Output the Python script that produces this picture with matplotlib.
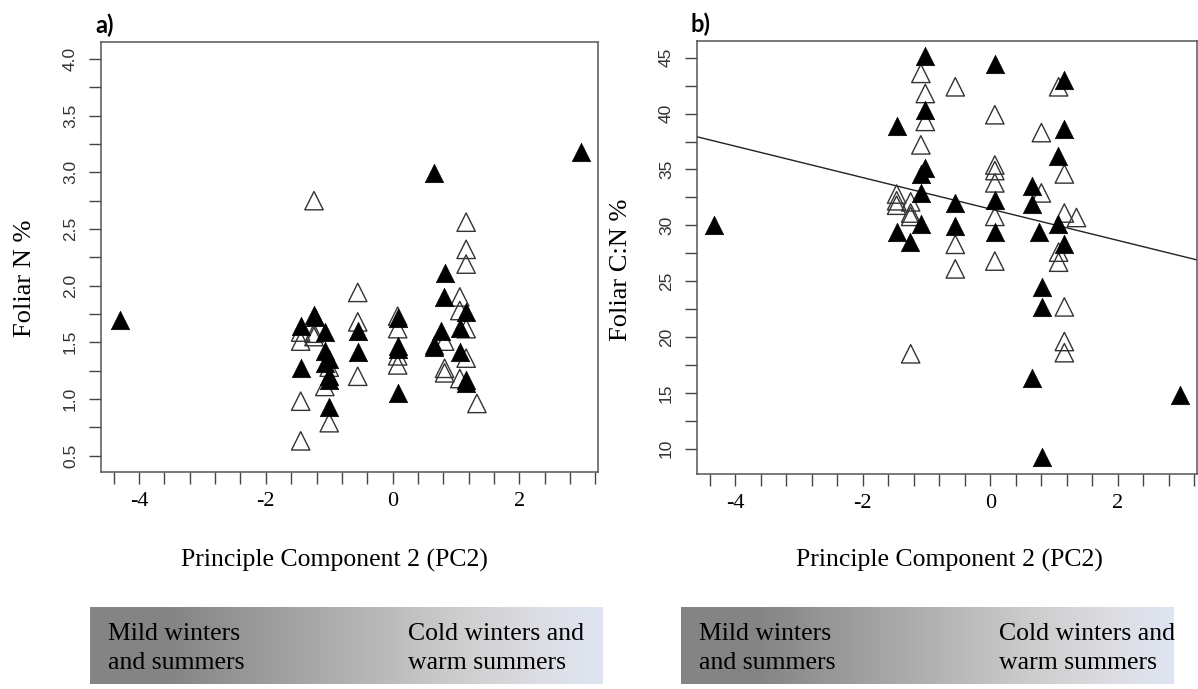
import numpy as np
import matplotlib
matplotlib.use("Agg")
import matplotlib.pyplot as plt
from matplotlib.colors import LinearSegmentedColormap

# panel a: foliar N % vs PC2
a_filled_x = [-4.30, -1.45, -1.45, -1.24, -1.22, -1.07, -1.07, -1.01, -1.07, -1.00, -1.00, -1.01,
              -0.55, -0.55, 0.08, 0.08, 0.08, 0.08, 0.65, 0.65, 0.76, 0.81, 1.06, 1.06,
              1.16, 1.16, 1.16, 0.65, 0.82, 2.97]
a_filled_y = [1.70, 1.64, 1.27, 1.74, 1.72, 1.59, 1.42, 1.35, 1.32, 1.20, 1.17, 0.93,
              1.60, 1.41, 1.71, 1.47, 1.44, 1.05, 1.48, 1.46, 1.60, 1.90, 1.63, 1.41,
              1.77, 1.17, 1.14, 2.99, 2.11, 3.18]
a_open_x = [-1.24, 1.16, 1.16, 1.16, -0.55, 1.06, 1.06, -1.45, -1.45, -1.24, -1.24, -1.00,
            -1.07, -1.45, -1.00, -1.45, -0.55, -0.55, 0.08, 0.08, 0.08, 0.08, 0.82, 0.82,
            0.82, 1.06, 1.16, 1.16, 1.33]
a_open_y = [2.75, 2.56, 2.32, 2.19, 1.94, 1.90, 1.78, 1.59, 1.51, 1.58, 1.55, 1.28,
            1.11, 0.98, 0.79, 0.63, 1.68, 1.20, 1.73, 1.62, 1.38, 1.30, 1.51, 1.27,
            1.23, 1.18, 1.62, 1.36, 0.96]

# panel b: foliar C:N % vs PC2
b_filled_x = [-1.02, 0.07, 1.16, -1.02, -1.46, 1.16, 1.06, -1.02, -1.09, 0.65, -1.09, -0.55,
              0.07, -4.33, 0.65, -1.47, -1.26, -1.09, -0.55, 0.07, 0.76, 1.06, 1.16, 0.81,
              0.81, 0.65, 2.98, 0.81]
b_filled_y = [45.2, 44.4, 43.0, 40.3, 38.9, 38.6, 36.2, 35.1, 34.6, 33.5, 32.9, 32.0,
              32.3, 30.0, 31.9, 29.4, 28.5, 30.1, 29.9, 29.4, 29.4, 30.1, 28.3, 24.5,
              22.7, 16.3, 14.8, 9.3]
b_open_x = [-1.09, -0.55, 1.07, -1.02, 0.07, -1.02, 0.80, -1.09, 0.07, 0.07, 1.16, 0.07,
            0.80, -1.47, -1.47, -1.47, -1.25, -1.25, -1.25, 0.07, 1.16, 1.35, -0.55, -0.55,
            0.07, 1.07, 1.07, 1.16, 1.16, 1.16, -1.25]
b_open_y = [43.6, 42.4, 42.4, 41.8, 39.9, 39.3, 38.3, 37.2, 35.4, 34.9, 34.6, 33.8,
            32.9, 32.8, 32.2, 31.8, 32.1, 31.1, 30.8, 30.8, 31.1, 30.7, 28.3, 26.1,
            26.8, 27.6, 26.7, 22.7, 19.6, 18.6, 18.5]
b_fit_intercept = 31.46
b_fit_slope = -1.406

x_label = "Principle Component 2 (PC2)"
bar_left_text = "Mild winters\nand summers"
bar_right_text = "Cold winters and\nwarm summers"

serif = ["Liberation Serif", "DejaVu Serif"]
sans = ["Liberation Sans", "DejaVu Sans"]

W, H = 1198, 689
fig = plt.figure(figsize=(W / 100, H / 100), dpi=100)


def draw_panel(rect, fx, fy, ox, oy, ylim, yticks, yminor, yfmt, ylab, tag, xlab_xy, ylab_xy):
    ax = fig.add_axes(rect)
    ax.scatter(ox, oy, marker="^", s=175, facecolors="none", edgecolors="#333333", linewidths=1.0, zorder=3)
    ax.scatter(fx, fy, marker="^", s=175, c="black", edgecolors="black", linewidths=0.5, zorder=4)
    ax.set_xlim(-4.6, 3.24)
    ax.set_ylim(*ylim)
    ax.set_xticks([-4, -2, 0, 2])
    ax.set_xticks(np.arange(-4.4, 3.3, 0.4), minor=True)
    ax.set_xticklabels(["-4", "-2", "0", "2"], family=serif, fontsize=16)
    ax.set_yticks(yticks)
    ax.set_yticks(yminor, minor=True)
    ax.set_yticklabels([yfmt % t for t in yticks], family=sans, fontsize=12.5,
                       rotation=90, va="center", color="#333333")
    ax.tick_params(which="both", length=8.5, width=1, color="#444444", direction="out")
    ax.tick_params(axis="x", which="major", pad=6)
    ax.tick_params(axis="y", which="major", pad=8)
    for sp in ax.spines.values():
        sp.set_color("#555555")
        sp.set_linewidth(1.1)
    ax.set_xlabel(x_label, family=serif, fontsize=18.5)
    ax.xaxis.set_label_coords(*xlab_xy)
    ax.set_ylabel(ylab, family=serif, fontsize=19)
    ax.yaxis.set_label_coords(*ylab_xy)
    ax.text(-0.012, 1.012, tag, transform=ax.transAxes, family=["Lato", "DejaVu Sans"],
            fontweight="bold", fontsize=17, ha="left", va="bottom")
    return ax


ax_a = draw_panel([101 / W, 1 - 472 / H, 497 / W, 430 / H], a_filled_x, a_filled_y, a_open_x, a_open_y,
                  (0.355, 4.15), np.arange(0.5, 4.01, 0.5), np.arange(0.5, 4.01, 0.25), "%.1f",
                  "Foliar N %", "a)", (0.47, -0.179), (-0.13, 0.451))
ax_b = draw_panel([697 / W, 1 - 474 / H, 500 / W, 433 / H], b_filled_x, b_filled_y, b_open_x, b_open_y,
                  (7.74, 46.5), np.arange(10, 46, 5), np.arange(10, 46, 2.5), "%d",
                  "Foliar C:N %", "b)", (0.505, -0.173), (-0.13, 0.471))
ax_b.axline((0, b_fit_intercept), slope=b_fit_slope, color="#222222", lw=1.0, zorder=2)

# climate gradient bars under each panel
grad = LinearSegmentedColormap.from_list("clim", [(0.0, "#858585"), (0.15, "#848484"),
                                                  (0.45, "#aaaaaa"), (0.7, "#cbcbcb"),
                                                  (0.87, "#dcdde2"), (1.0, "#dfe5f2")])
for left, width in ((90, 513), (681, 492)):
    bax = fig.add_axes([left / W, 1 - 684 / H, width / W, 77 / H])
    bax.imshow(np.linspace(0, 1, 256)[None, :], aspect="auto", cmap=grad, extent=(0, 1, 0, 1))
    bax.set_xlim(0, 1)
    bax.set_ylim(0, 1)
    bax.axis("off")
    bax.text(18 / width, 0.46, bar_left_text, family=serif, fontsize=18.5, va="center", ha="left",
             linespacing=1.45)
    bax.text(318 / width, 0.46, bar_right_text, family=serif, fontsize=18.5, va="center", ha="left",
             linespacing=1.45)

fig.savefig("out.png", dpi=100)
